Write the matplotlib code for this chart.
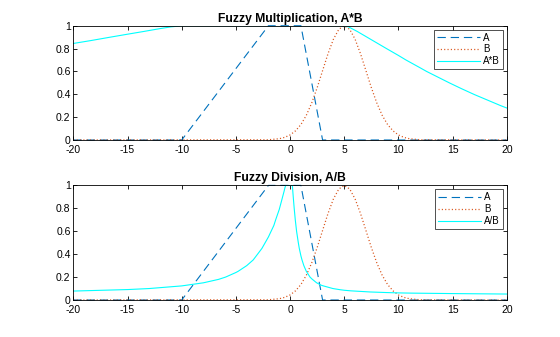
import numpy as np
import matplotlib
matplotlib.use("Agg")
import matplotlib.pyplot as plt

plt.rcParams['font.family'] = ['Liberation Sans', 'DejaVu Sans']
plt.rcParams['lines.scale_dashes'] = False
plt.rcParams['axes.unicode_minus'] = False

# membership functions
a_x = [-20, -10, -2, 1, 3, 20]
a_y = [0, 0, 1, 1, 0, 0]

b_x = [-20, -2, -1, -0.5, 0, 0.5, 1, 1.5, 2, 2.5, 3, 3.5, 4, 4.5, 5,
       5.5, 6, 6.5, 7, 7.5, 8, 8.5, 9, 9.5, 10, 10.5, 11, 12, 20]
b_y = [0, 0.002, 0.011, 0.023, 0.044, 0.080, 0.135, 0.216, 0.325, 0.458, 0.607,
       0.755, 0.882, 0.969, 1.0, 0.969, 0.882, 0.755, 0.607, 0.458, 0.325,
       0.216, 0.135, 0.080, 0.044, 0.023, 0.011, 0.002, 0]

mul_x = [-20, -18.4, -16.6, -15, -13.5, -12, -11, -10, 5, 5.4, 5.6, 6, 6.2,
         7.1, 8, 8.9, 10, 10.7, 12, 12.6, 13.65, 14.7, 15.8, 17, 18.2, 19.45, 20]
mul_y = [0.845, 0.87, 0.9, 0.926, 0.95, 0.975, 0.99, 1, 1, 0.99, 0.98, 0.96,
         0.95, 0.9, 0.85, 0.8, 0.74, 0.7, 0.632, 0.6, 0.55, 0.5, 0.45, 0.398,
         0.35, 0.3, 0.28]

div_x = [-20, -15, -13, -10, -8, -6.6, -5.95, -5, -4.8, -4, -3.4, -3, -2.6,
         -2.3, -2, -1.75, -1.5, -1.33, -1, -0.83, -0.69, -0.55, -0.5, -0.44,
         -0.4, 0.2, 0.22, 0.25, 0.3, 0.38, 0.48, 0.6, 0.76, 0.85, 1, 1.1, 1.27,
         1.5, 1.84, 2, 2.45, 2.85, 3, 3.95, 4.6, 5, 5.6, 7.4, 8.9, 10, 11.2,
         15, 20]
div_y = [0.078, 0.091, 0.1, 0.123, 0.15, 0.18, 0.2, 0.24, 0.25, 0.3, 0.35,
         0.4, 0.45, 0.5, 0.55, 0.6, 0.65, 0.7, 0.79, 0.85, 0.9, 0.95, 0.97,
         0.99, 1, 1, 0.99, 0.95, 0.89, 0.8, 0.7, 0.6, 0.5, 0.45, 0.385, 0.35,
         0.3, 0.25, 0.2, 0.185, 0.15, 0.13, 0.125, 0.1, 0.09, 0.085, 0.08,
         0.07, 0.065, 0.062, 0.06, 0.056, 0.052]

blue = (0, 0.447, 0.741)
orange = (0.85, 0.325, 0.098)

fig = plt.figure(figsize=(5.6, 3.37), dpi=100)
ax1 = fig.add_axes([0.131, 0.5846, 0.774, 0.339])
ax2 = fig.add_axes([0.131, 0.1098, 0.774, 0.340])

panels = [(ax1, mul_x, mul_y, 'A*B', 'Fuzzy Multiplication, A*B'),
          (ax2, div_x, div_y, 'A/B', 'Fuzzy Division, A/B')]

for ax, cx, cy, lab, title in panels:
    ax.plot(a_x, a_y, color=blue, lw=0.8, dashes=(6, 3.5), label='A', clip_on=False)
    ax.plot(b_x, b_y, color=orange, lw=0.9, dashes=(0.8, 1.6), label='B')
    ax.plot(cx, cy, color='cyan', lw=0.8, label=lab)
    ax.set_xlim(-20, 20)
    ax.set_ylim(0, 1)
    ax.set_xticks(range(-20, 21, 5))
    ax.set_yticks([0, 0.2, 0.4, 0.6, 0.8, 1])
    ax.set_yticklabels(['0', '0.2', '0.4', '0.6', '0.8', '1'])
    ax.tick_params(direction='in', top=True, right=True, length=3, width=0.6,
                   labelsize=7.5)
    ax.tick_params(axis='x', pad=3.5)
    ax.tick_params(axis='y', pad=2)
    for s in ax.spines.values():
        s.set_linewidth(0.6)
    ax.set_title(title, fontsize=8.7, fontweight='bold', pad=3)
    leg = ax.legend(loc='upper right', fontsize=7, frameon=True, fancybox=False,
                    edgecolor='black', handlelength=4.5, handletextpad=0.3,
                    borderpad=0.3, labelspacing=0.2, borderaxespad=0.4)
    leg.get_frame().set_linewidth(0.6)

fig.savefig('out.png', dpi=100)
